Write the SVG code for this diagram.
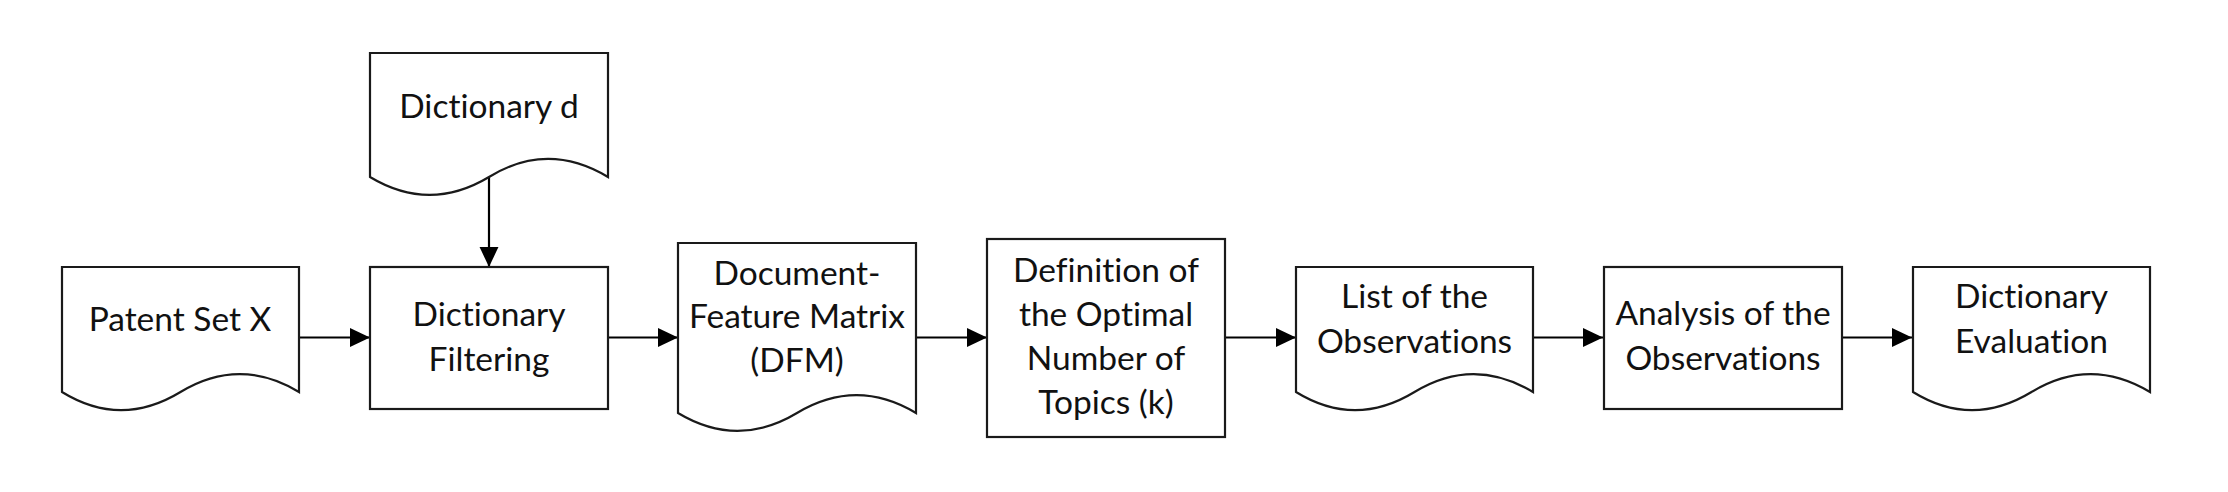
<svg xmlns="http://www.w3.org/2000/svg" width="2228" height="492" viewBox="0 0 2228 492">
<style>
.shape{fill:#fff;stroke:#1a1a1a;stroke-width:2.2;stroke-linejoin:miter}
.lbl{font-family:Lato,"Open Sans","Liberation Sans",sans-serif;font-size:33.5px;fill:#111;text-anchor:middle;font-variant-ligatures:none}
.conn{fill:none;stroke:#000;stroke-width:2.2}
</style>
<defs>
<marker id="arr" markerUnits="userSpaceOnUse" markerWidth="20" markerHeight="20" viewBox="0 0 18 17" refX="18" refY="8.5" orient="auto">
<path d="M0,0 L18,8.5 L0,17 Z" fill="#000"/>
</marker>
</defs>
<rect width="2228" height="492" fill="#fff"/>
<g id="connectors">
<line class="conn" x1="489" y1="177" x2="489" y2="267" marker-end="url(#arr)"/>
<line class="conn" x1="299" y1="337.5" x2="370" y2="337.5" marker-end="url(#arr)"/>
<line class="conn" x1="608" y1="337.5" x2="678" y2="337.5" marker-end="url(#arr)"/>
<line class="conn" x1="916" y1="337.5" x2="987" y2="337.5" marker-end="url(#arr)"/>
<line class="conn" x1="1225" y1="337.5" x2="1296" y2="337.5" marker-end="url(#arr)"/>
<line class="conn" x1="1533" y1="337.5" x2="1603" y2="337.5" marker-end="url(#arr)"/>
<line class="conn" x1="1842" y1="337.5" x2="1912" y2="337.5" marker-end="url(#arr)"/>
</g>
<g id="dictionary-d">
<path class="shape" d="M370,177 V53 H608 V177 C568,153 528,153 489,177 C449,201 410,201 370,177 Z"/>
<text class="lbl" x="489" y="118">Dictionary d</text>
</g>
<g id="patent-set-x">
<path class="shape" d="M62,392 V267 H299 V392 C259,368 220,368 180.5,392 C141,416 101,416 62,392 Z"/>
<text class="lbl" x="180" y="331">Patent Set X</text>
</g>
<g id="dictionary-filtering">
<rect class="shape" x="370" y="267" width="238" height="142"/>
<text class="lbl" x="489" y="326">Dictionary</text>
<text class="lbl" x="489" y="371">Filtering</text>
</g>
<g id="dfm">
<path class="shape" d="M678,413 V243 H916 V413 C876,389 837,389 797,413 C757,437 718,437 678,413 Z"/>
<text class="lbl" x="797" y="285">Document-</text>
<text class="lbl" x="797" y="328">Feature Matrix</text>
<text class="lbl" x="797" y="372">(DFM)</text>
</g>
<g id="definition">
<rect class="shape" x="987" y="239" width="238" height="198"/>
<text class="lbl" x="1106" y="282">Definition of</text>
<text class="lbl" x="1106" y="326">the Optimal</text>
<text class="lbl" x="1106" y="370">Number of</text>
<text class="lbl" x="1106" y="414">Topics (k)</text>
</g>
<g id="list-observations">
<path class="shape" d="M1296,392 V267 H1533 V392 C1493,368 1454,368 1414.5,392 C1375,416 1335,416 1296,392 Z"/>
<text class="lbl" x="1414.5" y="308">List of the</text>
<text class="lbl" x="1414.5" y="353">Observations</text>
</g>
<g id="analysis">
<rect class="shape" x="1604" y="267" width="238" height="142"/>
<text class="lbl" x="1723" y="325">Analysis of the</text>
<text class="lbl" x="1723" y="370">Observations</text>
</g>
<g id="dictionary-evaluation">
<path class="shape" d="M1913,392 V267 H2150 V392 C2110,368 2071,368 2031.5,392 C1992,416 1952,416 1913,392 Z"/>
<text class="lbl" x="2031.5" y="308">Dictionary</text>
<text class="lbl" x="2031.5" y="353">Evaluation</text>
</g>
</svg>
